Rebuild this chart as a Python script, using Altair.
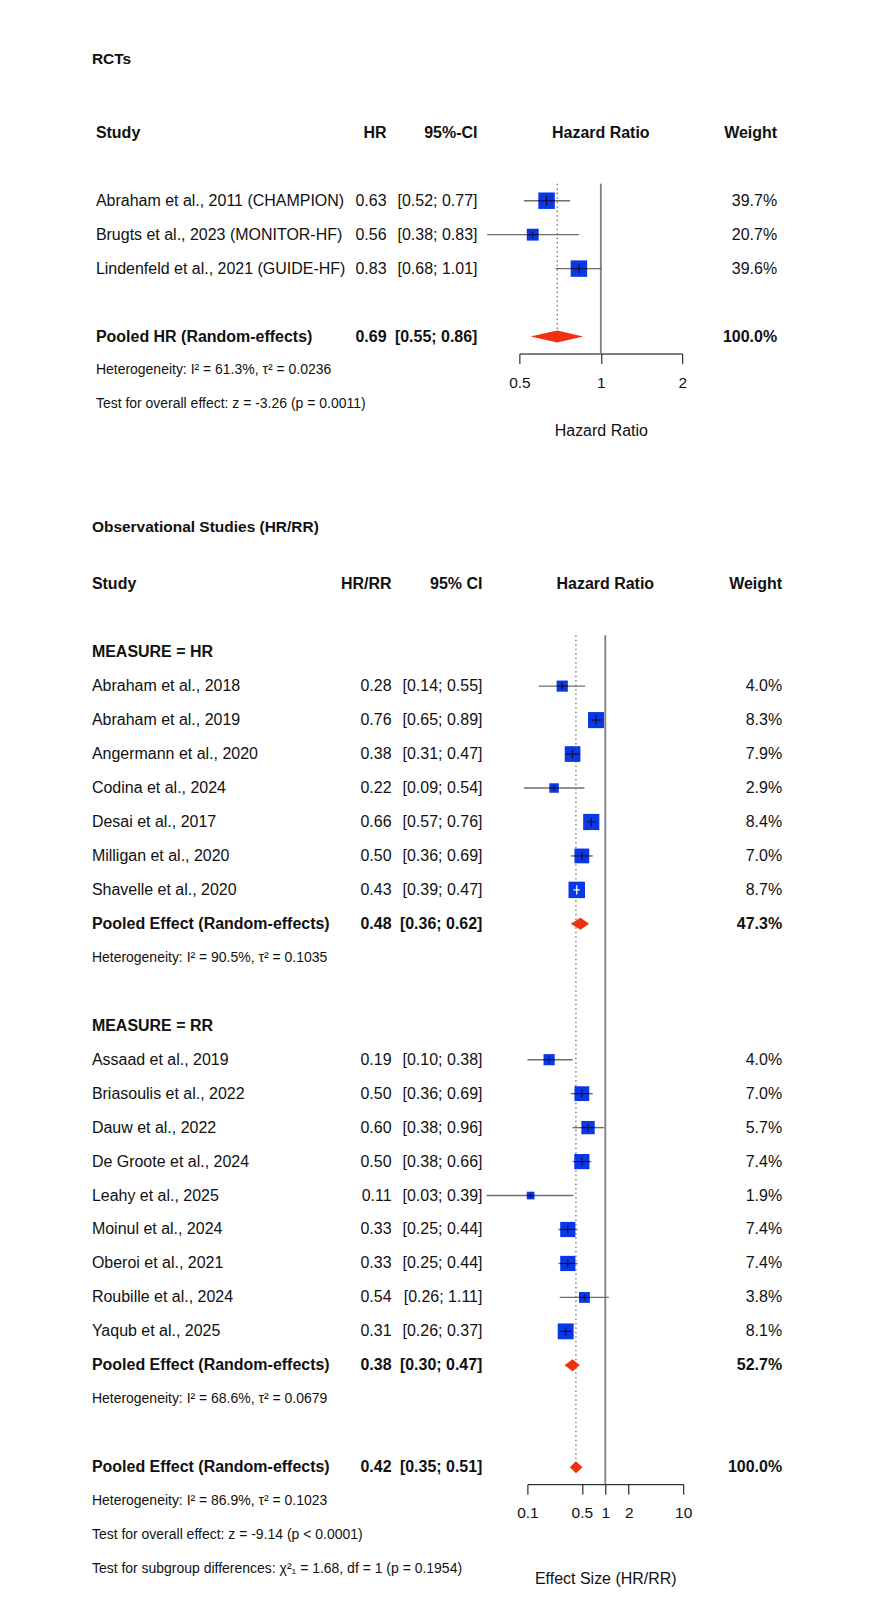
import math
import altair as alt
import pandas as pd

# ---------------- data ----------------
# RCTs
rct_study = ["Abraham et al., 2011 (CHAMPION)", "Brugts et al., 2023 (MONITOR-HF)",
             "Lindenfeld et al., 2021 (GUIDE-HF)"]
rct_est = [0.63, 0.56, 0.83]
rct_lo = [0.52, 0.38, 0.68]
rct_hi = [0.77, 0.83, 1.01]
rct_w = [39.7, 20.7, 39.6]
rct_pool = [0.69, 0.55, 0.86, 100.0]
rct_notes = ["Heterogeneity: I² = 61.3%, τ² = 0.0236",
             "Test for overall effect: z = -3.26 (p = 0.0011)"]

# Observational, MEASURE = HR
hr_study = ["Abraham et al., 2018", "Abraham et al., 2019", "Angermann et al., 2020",
            "Codina et al., 2024", "Desai et al., 2017", "Milligan et al., 2020",
            "Shavelle et al., 2020"]
hr_est = [0.28, 0.76, 0.38, 0.22, 0.66, 0.50, 0.43]
hr_lo = [0.14, 0.65, 0.31, 0.09, 0.57, 0.36, 0.39]
hr_hi = [0.55, 0.89, 0.47, 0.54, 0.76, 0.69, 0.47]
hr_w = [4.0, 8.3, 7.9, 2.9, 8.4, 7.0, 8.7]
hr_pool = [0.48, 0.36, 0.62, 47.3]
hr_note = "Heterogeneity: I² = 90.5%, τ² = 0.1035"

# Observational, MEASURE = RR
rr_study = ["Assaad et al., 2019", "Briasoulis et al., 2022", "Dauw et al., 2022",
            "De Groote et al., 2024", "Leahy et al., 2025", "Moinul et al., 2024",
            "Oberoi et al., 2021", "Roubille et al., 2024", "Yaqub et al., 2025"]
rr_est = [0.19, 0.50, 0.60, 0.50, 0.11, 0.33, 0.33, 0.54, 0.31]
rr_lo = [0.10, 0.36, 0.38, 0.38, 0.03, 0.25, 0.25, 0.26, 0.26]
rr_hi = [0.38, 0.69, 0.96, 0.66, 0.39, 0.44, 0.44, 1.11, 0.37]
rr_w = [4.0, 7.0, 5.7, 7.4, 1.9, 7.4, 7.4, 3.8, 8.1]
rr_pool = [0.38, 0.30, 0.47, 52.7]
rr_note = "Heterogeneity: I² = 68.6%, τ² = 0.0679"

all_pool = [0.42, 0.35, 0.51, 100.0]
all_notes = ["Heterogeneity: I² = 86.9%, τ² = 0.1023",
             "Test for overall effect: z = -9.14 (p < 0.0001)",
             "Test for subgroup differences: χ²₁ = 1.68, df = 1 (p = 0.1954)"]

top_ticks = [0.5, 1, 2]
bot_ticks = [0.1, 0.5, 1, 2, 10]

# ---------------- style ----------------
FONT = "Liberation Sans"
INK = "#111111"
BLUE = "#0b38e6"
RED = "#f2300f"
CI_GRAY = "#6e6e6e"
REF_GRAY = "#808080"
DOT_GRAY = "#444444"
ROW_PX = 34
W = 860
H_TOP = 476
H_BOT = 1108
SIDE_MAX = 16.5
DIAMOND_H = 6 / ROW_PX
NULL_VALUE = 1


def studies(names, est, lo, hi, w):
    return [dict(kind="study", name=n, est=e, lo=l, hi=h, w=ww)
            for n, e, l, h, ww in zip(names, est, lo, hi, w)]


def pooled(label, p):
    return dict(kind="pooled", name=label, est=p[0], lo=p[1], hi=p[2], w=p[3])


def build_section(items, start_row, headers, header_row, title, title_row,
                  xdom, xrng, ticks, axis_title, label_pad, title_pad,
                  cols, row_top, height):
    ys = alt.Scale(domain=[row_top, row_top + height / ROW_PX], reverse=True,
                   nice=False, zero=False)
    xs = alt.Scale(type="log", domain=xdom, range=xrng, nice=False)
    ppd = (xrng[1] - xrng[0]) / math.log10(xdom[1] / xdom[0])

    wmax = max(it["w"] for it in items if it["kind"] == "study")
    srows, drows, trows = [], [], []
    pooled_rows = []
    row = start_row
    for it in items:
        k = it["kind"]
        if k == "study":
            side = SIDE_MAX * math.sqrt(it["w"] / wmax)
            half = side / 2 / ppd
            ci_px = ppd * math.log10(it["hi"] / it["lo"])
            vh = 0.28 * side / ROW_PX
            srows.append(dict(row=row, est=it["est"], lo=it["lo"], hi=it["hi"],
                              sz=side ** 2,
                              clo=max(it["lo"], it["est"] / 10 ** half),
                              chi=min(it["hi"], it["est"] * 10 ** half),
                              vy1=row - vh, vy2=row + vh,
                              pc="#ffffff" if ci_px < 0.5 * side else "#101040"))
            trows += [(row, it["name"], "name", "reg"),
                      (row, f"{it['est']:.2f}", "est", "reg"),
                      (row, f"[{it['lo']:.2f}; {it['hi']:.2f}]", "ci", "reg"),
                      (row, f"{it['w']:.1f}%", "w", "reg")]
        elif k == "pooled":
            g = f"d{row}"
            drows += [dict(g=g, x=it["lo"], ya=row, yb=row),
                      dict(g=g, x=it["est"], ya=row - DIAMOND_H, yb=row + DIAMOND_H),
                      dict(g=g, x=it["hi"], ya=row, yb=row)]
            pooled_rows.append((row, it["est"]))
            trows += [(row, it["name"], "name", "bold"),
                      (row, f"{it['est']:.2f}", "est", "bold"),
                      (row, f"[{it['lo']:.2f}; {it['hi']:.2f}]", "ci", "bold"),
                      (row, f"{it['w']:.1f}%", "w", "bold")]
        elif k == "subhead":
            trows.append((row, it["name"], "name", "bold"))
        elif k == "note":
            trows.append((row, it["name"], "name", "small"))
        row += 1

    for c, t in headers.items():
        trows.append((header_row, t, c, "bold"))
    trows.append((title_row, title, "title", "title"))

    last_row, last_est = pooled_rows[-1]
    axis_row = last_row + 0.5
    offset = (axis_row - row_top) * ROW_PX - height

    ax = alt.Axis(values=ticks, format="~g", orient="bottom", offset=offset,
                  tickSize=10, tickColor="#000000", tickWidth=1,
                  domainColor="#000000", domainWidth=1, grid=False,
                  labelFont=FONT, labelFontSize=15.5, labelColor=INK,
                  labelPadding=label_pad, labelFlush=False, labelOverlap=False,
                  title=axis_title, titleFont=FONT, titleFontSize=16,
                  titleFontWeight="normal", titleColor=INK, titlePadding=title_pad)

    def X(f):
        return alt.X(f, type="quantitative", scale=xs, axis=ax)

    def Y(f):
        return alt.Y(f, type="quantitative", scale=ys, axis=None)

    sdf = pd.DataFrame(srows)
    ddf = pd.DataFrame(drows)
    ref = pd.DataFrame([dict(x=NULL_VALUE, y1=start_row - 0.5, y2=axis_row)])
    dot = pd.DataFrame([dict(x=last_est, y1=start_row - 0.5, y2=last_row - DIAMOND_H)])

    layers = [
        alt.Chart(ref).mark_rule(color=REF_GRAY, strokeWidth=1.8).encode(
            x=X("x"), y=Y("y1"), y2="y2"),
        alt.Chart(dot).mark_rule(color=DOT_GRAY, strokeWidth=1, strokeDash=[1.5, 3]).encode(
            x=X("x"), y=Y("y1"), y2="y2"),
        alt.Chart(sdf).mark_rule(color=CI_GRAY, strokeWidth=1.4).encode(
            x=X("lo"), x2="hi", y=Y("row")),
        alt.Chart(sdf).mark_point(shape="square", filled=True, opacity=1,
                                  color=BLUE, strokeWidth=0).encode(
            x=X("est"), y=Y("row"),
            size=alt.Size("sz:Q", scale=None, legend=None)),
        alt.Chart(sdf).mark_rule(strokeWidth=1.2).encode(
            x=X("clo"), x2="chi", y=Y("row"),
            color=alt.Color("pc:N", scale=None, legend=None)),
        alt.Chart(sdf).mark_rule(strokeWidth=1.2).encode(
            x=X("est"), y=Y("vy1"), y2="vy2",
            color=alt.Color("pc:N", scale=None, legend=None)),
        alt.Chart(ddf).mark_area(color=RED, opacity=1, orient="vertical").encode(
            x=X("x"), y=Y("ya"), y2="yb", detail="g:N"),
    ]

    tdf = pd.DataFrame(trows, columns=["row", "text", "col", "style"])
    tdf["xv"] = NULL_VALUE
    style_props = {"reg": (16, "normal"), "bold": (16, "bold"),
                   "small": (14, "normal"), "title": (15.5, "bold")}
    col_props = {"name": ("left", alt.value(cols["name"])),
                 "title": ("left", alt.value(cols["title"])),
                 "est": ("right", alt.value(cols["est"])),
                 "ci": ("right", alt.value(cols["ci"])),
                 "w": ("right", alt.value(cols["w"])),
                 "center": ("center", None)}
    for (c, s), sub in tdf.groupby(["col", "style"]):
        align, xenc = col_props[c]
        size, weight = style_props[s]
        if xenc is None:
            xenc = X("xv")
        layers.append(
            alt.Chart(sub).mark_text(align=align, baseline="middle", font=FONT,
                                     fontSize=size, fontWeight=weight, color=INK).encode(
                x=xenc, y=Y("row"), text="text:N"))

    return alt.layer(*layers).properties(width=W, height=height)


top_items = (studies(rct_study, rct_est, rct_lo, rct_hi, rct_w)
             + [dict(kind="blank"), pooled("Pooled HR (Random-effects)", rct_pool)]
             + [dict(kind="note", name=n) for n in rct_notes])

bot_items = ([dict(kind="subhead", name="MEASURE = HR")]
             + studies(hr_study, hr_est, hr_lo, hr_hi, hr_w)
             + [pooled("Pooled Effect (Random-effects)", hr_pool),
                dict(kind="note", name=hr_note), dict(kind="blank"),
                dict(kind="subhead", name="MEASURE = RR")]
             + studies(rr_study, rr_est, rr_lo, rr_hi, rr_w)
             + [pooled("Pooled Effect (Random-effects)", rr_pool),
                dict(kind="note", name=rr_note), dict(kind="blank"),
                pooled("Pooled Effect (Random-effects)", all_pool)]
             + [dict(kind="note", name=n) for n in all_notes])

top = build_section(
    top_items, 0,
    {"name": "Study", "est": "HR", "ci": "95%-CI", "center": "Hazard Ratio", "w": "Weight"},
    -2, "RCTs", -4.18,
    [0.5, 2], [512, 675], top_ticks, "Hazard Ratio", 12, 32,
    {"name": 88, "title": 84, "est": 379, "ci": 470, "w": 770},
    -192 / ROW_PX, H_TOP)

bottom = build_section(
    bot_items, -1,
    {"name": "Study", "est": "HR/RR", "ci": "95% CI", "center": "Hazard Ratio", "w": "Weight"},
    -3, "Observational Studies (HR/RR)", -4.68,
    [0.1, 10], [520, 676], bot_ticks, "Effect Size (HR/RR)", 11, 50,
    {"name": 84, "title": 84, "est": 384, "ci": 475, "w": 775},
    -202 / ROW_PX, H_BOT)

chart = alt.vconcat(top, bottom, spacing=0).resolve_scale(
    x="independent", y="independent").properties(
    padding=0, background="white").configure_view(stroke=None)

chart.save("out.html", embed_options={"renderer": "svg", "actions": False})
